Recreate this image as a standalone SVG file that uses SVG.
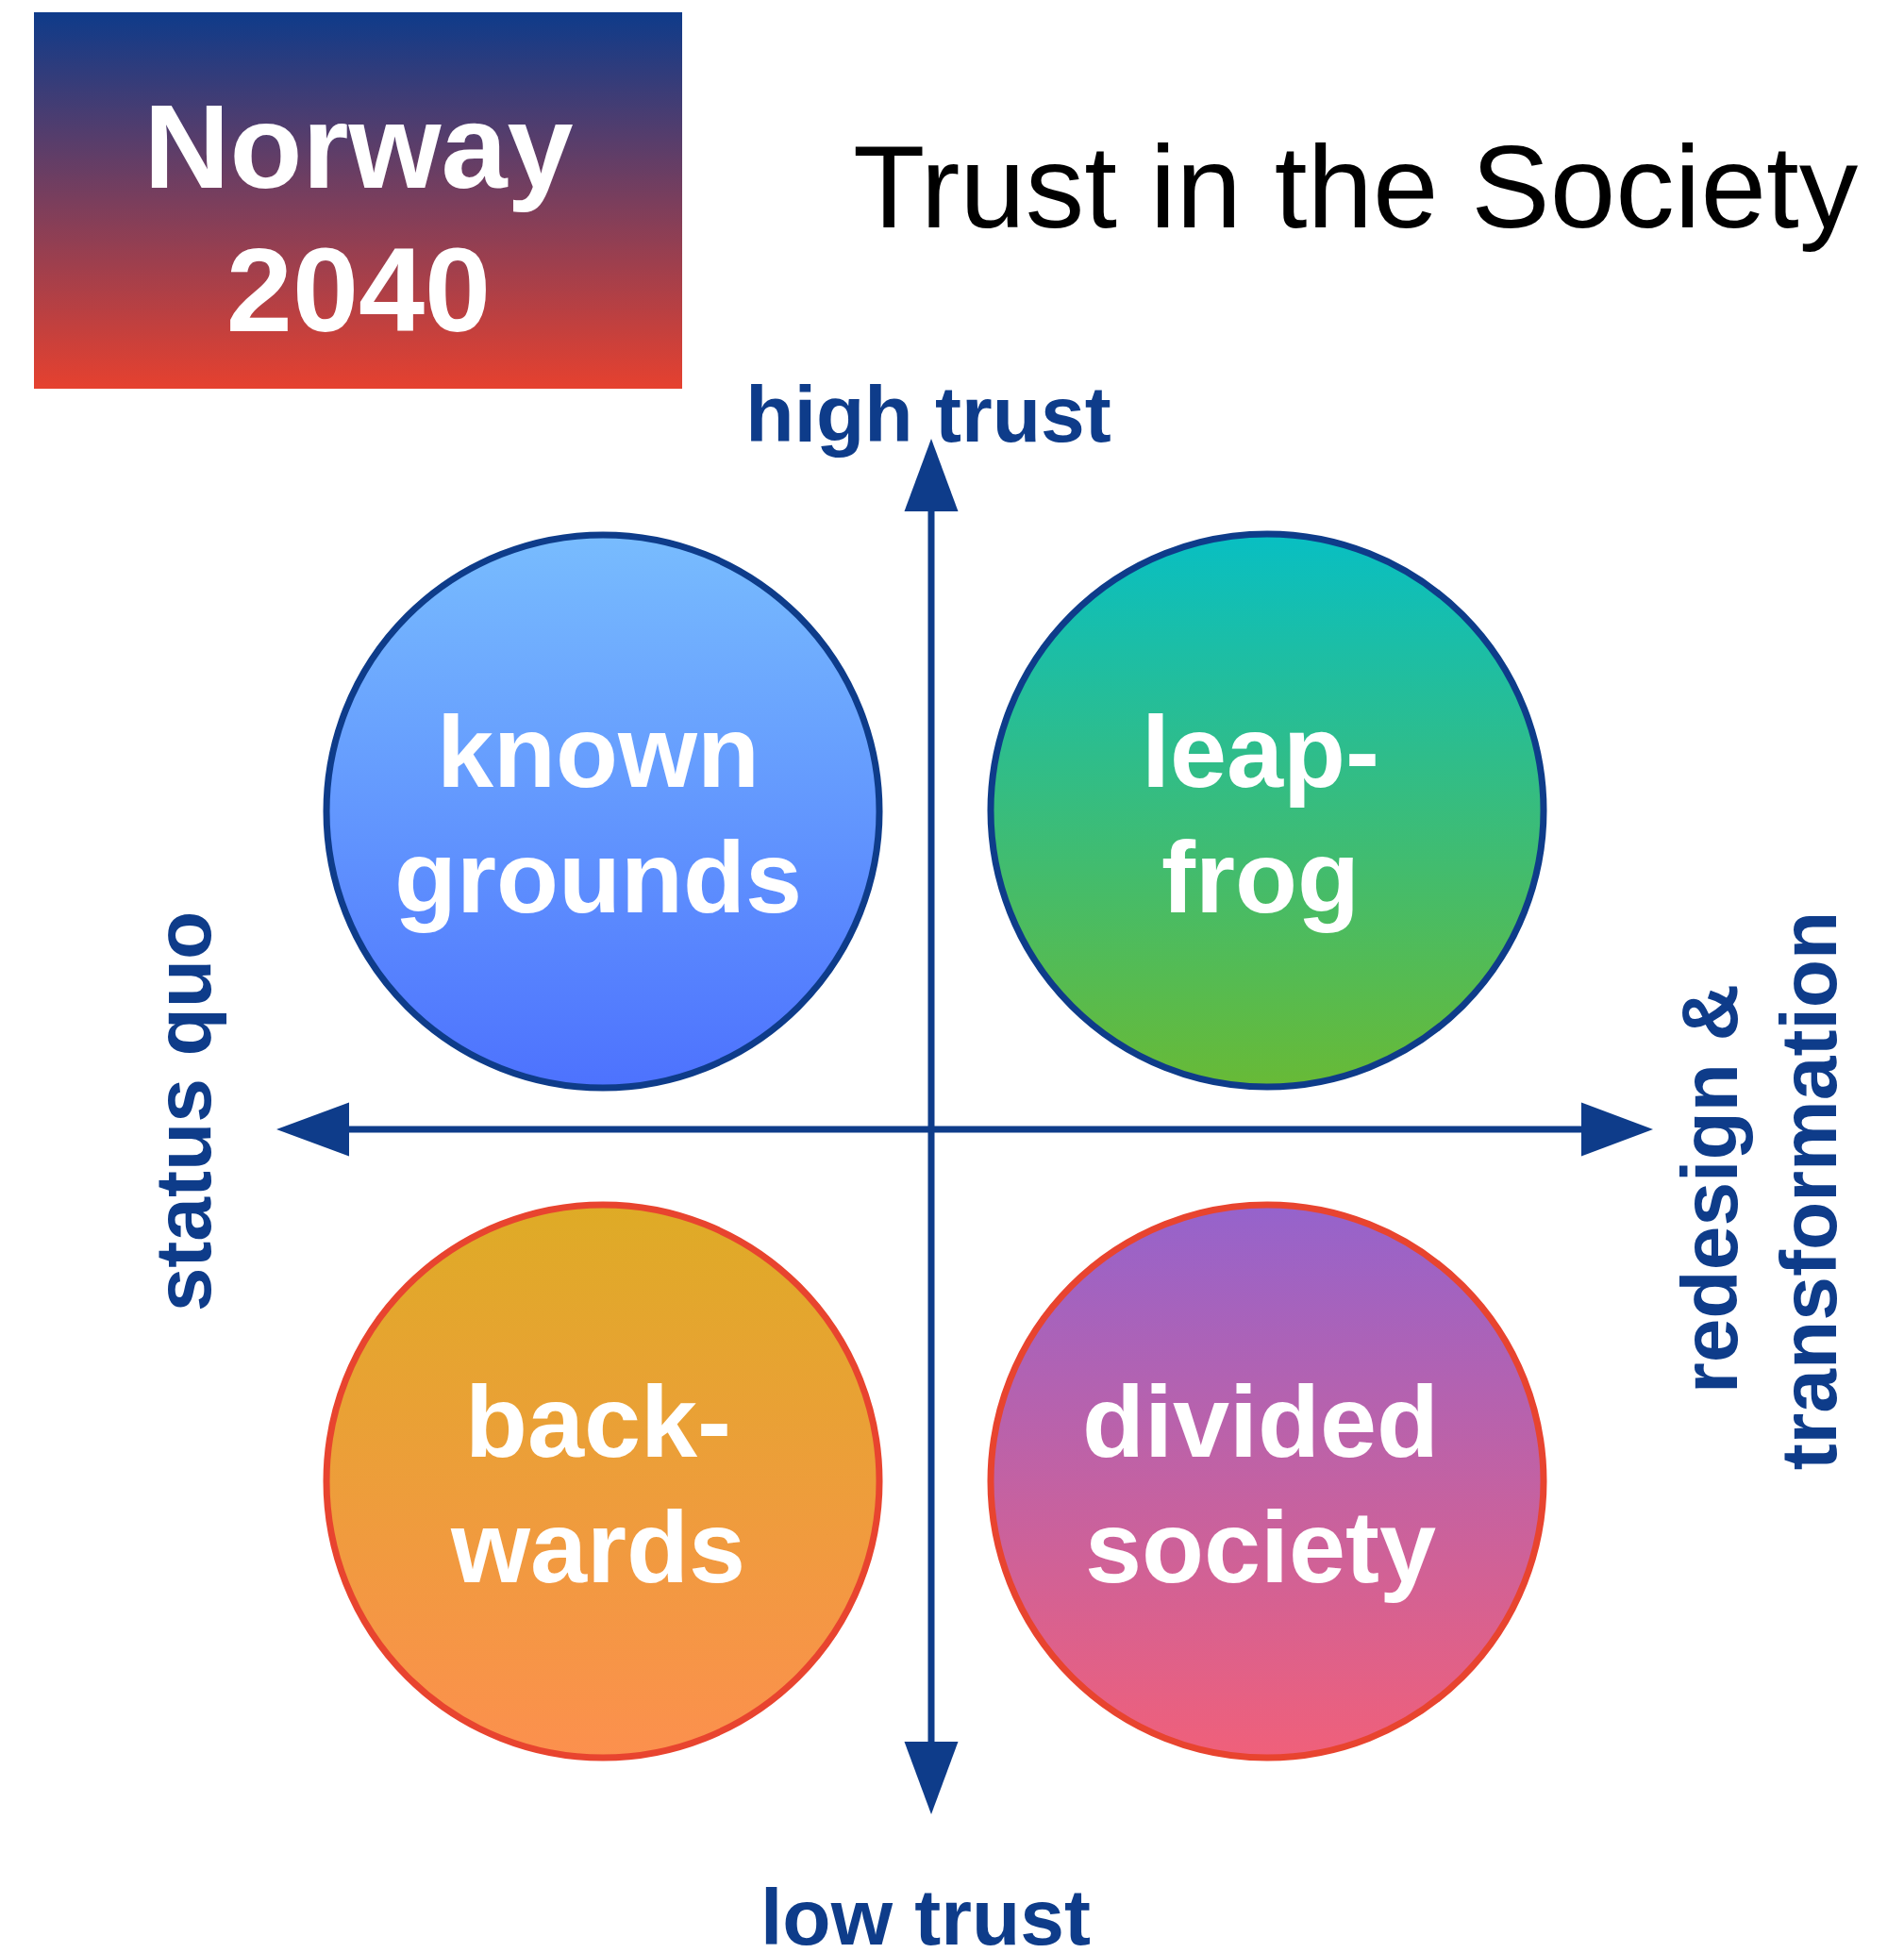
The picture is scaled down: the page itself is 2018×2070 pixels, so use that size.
<svg xmlns="http://www.w3.org/2000/svg" width="2018" height="2070" viewBox="0 0 2018 2070">
<defs>
<linearGradient id="gTitle" x1="0" y1="0" x2="0" y2="1"><stop offset="0" stop-color="#0E3B8A"/><stop offset="1" stop-color="#E6412F"/></linearGradient>
<linearGradient id="gKnown" x1="0" y1="0" x2="0" y2="1"><stop offset="0" stop-color="#78BCFE"/><stop offset="1" stop-color="#4D72FE"/></linearGradient>
<linearGradient id="gLeap" x1="0" y1="0" x2="0" y2="1"><stop offset="0" stop-color="#08BFC3"/><stop offset="1" stop-color="#68BA36"/></linearGradient>
<linearGradient id="gBack" x1="0" y1="0" x2="0" y2="1"><stop offset="0" stop-color="#DEAB26"/><stop offset="1" stop-color="#FC904E"/></linearGradient>
<linearGradient id="gDiv" x1="0" y1="0" x2="0" y2="1"><stop offset="0" stop-color="#9563CC"/><stop offset="1" stop-color="#F0607A"/></linearGradient>
</defs>
<style>
.blue{stroke:#0E3C8A;stroke-width:7}
.red{stroke:#E8442F;stroke-width:7}
.ct{font-family:"Liberation Sans",Arial,sans-serif;font-weight:bold;font-size:108px;fill:#FFFFFF;text-anchor:middle}
.ax{font-family:"Liberation Sans",Arial,sans-serif;font-weight:bold;font-size:84px;fill:#0E3C8A;text-anchor:middle}
.axis{stroke:#0E3C8A;stroke-width:7;fill:none}
.head{fill:#0E3C8A}
</style>
<g id="title-box">
<rect x="36" y="13" width="687" height="399" fill="url(#gTitle)"/>
<text x="380" y="199" font-family="Liberation Sans,Arial,sans-serif" font-weight="bold" font-size="126" fill="#FFFFFF" text-anchor="middle">Norway</text>
<text x="380" y="351" font-family="Liberation Sans,Arial,sans-serif" font-weight="bold" font-size="126" fill="#FFFFFF" text-anchor="middle">2040</text>
</g>
<g id="title">
<text x="904" y="241" font-family="Liberation Sans,Arial,sans-serif" font-size="125" fill="#000000">Trust in the Society</text>
</g>
<g id="connectors">
<line class="axis" x1="987" y1="530" x2="987" y2="1860"/>
<line class="axis" x1="360" y1="1197" x2="1686" y2="1197"/>
<polygon class="head" points="987,465 1015.5,542 958.5,542"/>
<polygon class="head" points="987,1923 1015.5,1846 958.5,1846"/>
<polygon class="head" points="293,1197 370,1168.5 370,1225.5"/>
<polygon class="head" points="1752,1197 1676,1168.5 1676,1225.5"/>
</g>
<g id="label-high-trust"><text class="ax" x="984" y="468">high trust</text></g>
<g id="label-low-trust"><text class="ax" x="981" y="2061">low trust</text></g>
<g id="label-status-quo"><text class="ax" transform="translate(223,1178) rotate(-90)">status quo</text></g>
<g id="label-redesign"><text class="ax" transform="translate(1841,1260) rotate(-90)">redesign &amp;</text><text class="ax" transform="translate(1946,1262) rotate(-90)">transformation</text></g>
<g id="node-known-grounds">
<circle class="blue" cx="639" cy="860" r="293" fill="url(#gKnown)"/>
<text class="ct" x="634" y="834">known</text>
<text class="ct" x="634" y="967">grounds</text>
</g>
<g id="node-leap-frog">
<circle class="blue" cx="1343" cy="859" r="293" fill="url(#gLeap)"/>
<text class="ct" x="1336" y="834">leap-</text>
<text class="ct" x="1336" y="967">frog</text>
</g>
<g id="node-backwards">
<circle class="red" cx="639" cy="1570" r="293" fill="url(#gBack)"/>
<text class="ct" x="634" y="1544">back-</text>
<text class="ct" x="634" y="1677">wards</text>
</g>
<g id="node-divided-society">
<circle class="red" cx="1343" cy="1570" r="293" fill="url(#gDiv)"/>
<text class="ct" x="1336" y="1544">divided</text>
<text class="ct" x="1336" y="1677">society</text>
</g>
</svg>
